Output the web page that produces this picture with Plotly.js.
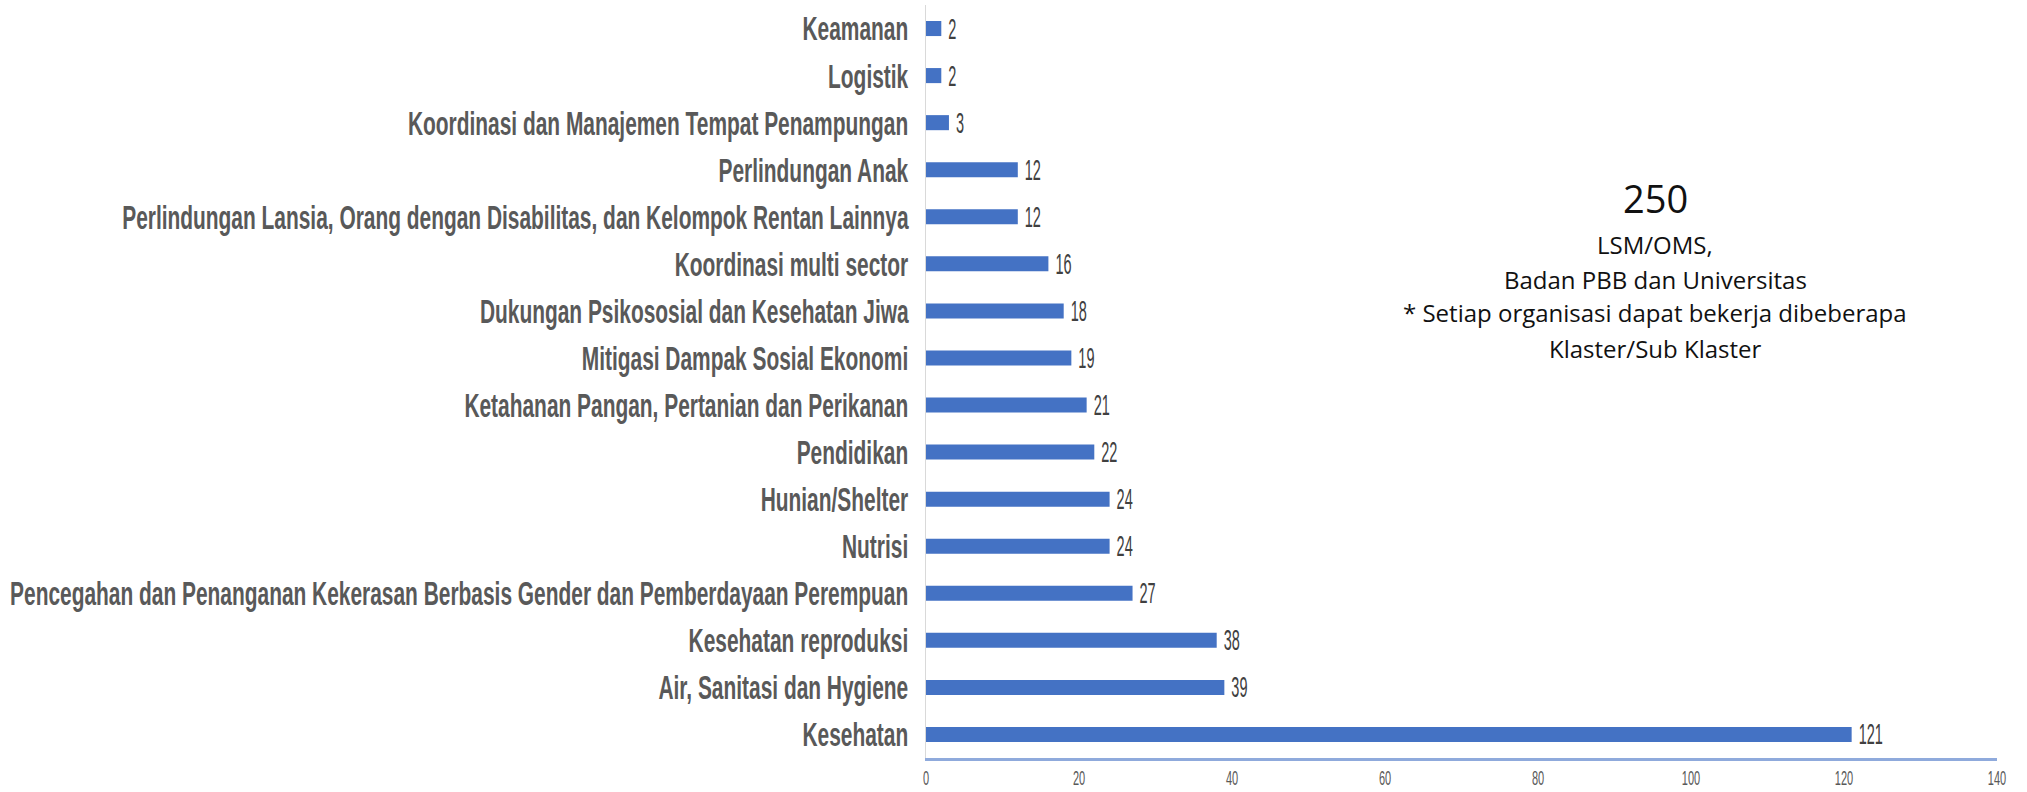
<!DOCTYPE html>
<html>
<head>
<meta charset="utf-8">
<script src="https://cdn.plot.ly/plotly-3.0.1.min.js"></script>
<style>html,body{margin:0;padding:0;background:#fff;}#chart{width:2027px;height:792px;}</style>
</head>
<body>
<div id="chart"></div>
<script>
const categories = [
  "Keamanan",
  "Logistik",
  "Koordinasi dan Manajemen Tempat Penampungan",
  "Perlindungan Anak",
  "Perlindungan Lansia, Orang dengan Disabilitas, dan Kelompok Rentan Lainnya",
  "Koordinasi multi sector",
  "Dukungan Psikososial dan Kesehatan Jiwa",
  "Mitigasi Dampak Sosial Ekonomi",
  "Ketahanan Pangan, Pertanian dan Perikanan",
  "Pendidikan",
  "Hunian/Shelter",
  "Nutrisi",
  "Pencegahan dan Penanganan Kekerasan Berbasis Gender dan Pemberdayaan Perempuan",
  "Kesehatan reproduksi",
  "Air, Sanitasi dan Hygiene",
  "Kesehatan"
];
const counts = [2, 2, 3, 12, 12, 16, 18, 19, 21, 22, 24, 24, 27, 38, 39, 121];
const xTicks = [0, 20, 40, 60, 80, 100, 120, 140];
const noteLines = [
  "LSM/OMS,",
  "Badan PBB dan Universitas",
  "* Setiap organisasi dapat bekerja dibeberapa",
  "Klaster/Sub Klaster"
];
const total = "250";

const sans = "Liberation Sans, Arial, sans-serif";
const noteFont = "Open Sans, Noto Sans, sans-serif";

const trace = {
  type: "bar",
  orientation: "h",
  y: categories,
  x: counts,
  text: counts.map(String),
  textposition: "outside",
  constraintext: "none",
  cliponaxis: false,
  textfont: {family: sans, size: 29, color: "#404040"},
  marker: {color: "#4472C4", line: {width: 0}},
  hoverinfo: "x+y"
};

const noteY = [0.682, 0.636, 0.591, 0.544];
const annotations = [{
  xref: "paper", yref: "paper", x: 0.681, y: 0.744,
  text: total, showarrow: false, xanchor: "center", yanchor: "middle",
  font: {family: noteFont, size: 38, color: "#111"}
}].concat(noteLines.map((t, i) => ({
  xref: "paper", yref: "paper", x: 0.681, y: noteY[i],
  text: t, showarrow: false, xanchor: "center", yanchor: "middle",
  font: {family: noteFont, size: 24, color: "#111"}
})));

const layout = {
  width: 2027, height: 792,
  margin: {l: 926, r: 30, t: 5, b: 34},
  paper_bgcolor: "#fff", plot_bgcolor: "#fff",
  showlegend: false,
  bargap: 0.68,
  xaxis: {
    range: [0, 140], tickvals: xTicks, ticktext: xTicks.map(String),
    showgrid: false, zeroline: false,
    showline: true, linecolor: "#8FAADC", linewidth: 3,
    ticks: "",
    tickfont: {family: sans, size: 20, color: "#595959"},
    automargin: false,
    fixedrange: true
  },
  yaxis: {
    autorange: "reversed", type: "category",
    showgrid: false, zeroline: false,
    showline: true, linecolor: "#D9D9D9", linewidth: 1,
    ticks: "outside", ticklen: 10, tickcolor: "rgba(0,0,0,0)",
    tickfont: {family: sans, size: 34, color: "#595959", weight: "bold"},
    automargin: false,
    fixedrange: true
  },
  annotations: annotations
};

// Condense text horizontally (the reference uses a tall, narrow face)
function condense(selector, s, anchor, dx) {
  document.querySelectorAll(selector).forEach(el => {
    const bb = el.getBBox();
    const ax = anchor === "end" ? bb.x + bb.width : anchor === "start" ? bb.x : bb.x + bb.width / 2;
    const t = el.getAttribute("transform") || "";
    el.setAttribute("transform",
      t + " translate(" + (ax + (dx || 0)) + ",0) scale(" + s + ",1) translate(" + (-ax) + ",0)");
  });
}

Plotly.newPlot("chart", [trace], layout, {displayModeBar: false, staticPlot: true}).then(() => {
  condense("#chart .ytick text", 0.615, "end", 0);
  condense("#chart .xtick text", 0.55, "middle", 0);
  condense("#chart text.bartext", 0.5, "start", 4);
});
</script>
</body>
</html>
